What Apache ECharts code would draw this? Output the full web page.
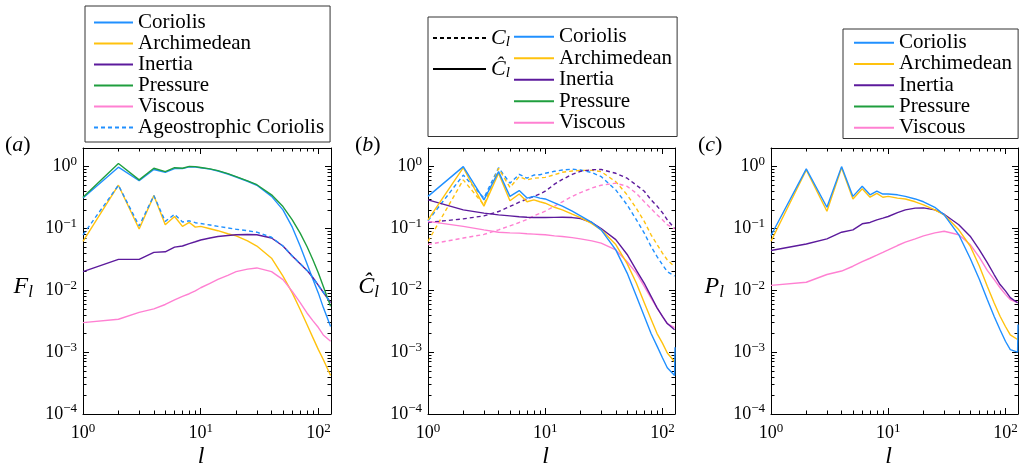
<!DOCTYPE html>
<html>
<head>
<meta charset="utf-8">
<title>Force spectra</title>
<script src="https://cdn.jsdelivr.net/npm/echarts@6/dist/echarts.min.js"></script>
<style>
  html, body { margin: 0; padding: 0; background: #fff; }
  #main { width: 1029px; height: 473px; }
</style>
</head>
<body>
<div id="main"></div>
<script>
// spherical harmonic degree l (last entry only used by the Coriolis curves of b and c)
var L = [1, 2, 3, 4, 5, 6, 7, 8, 9, 10, 12, 14, 17, 20, 25, 30, 40, 50, 60, 70, 80, 90, 100, 110, 127, 128];

// (a) F_l
var aCoriolis    = [0.31, 0.98, 0.59, 0.90, 0.81, 0.93, 0.93, 0.99, 0.98, 0.96, 0.91, 0.85, 0.76, 0.68, 0.58, 0.50, 0.33, 0.20, 0.105, 0.052, 0.027, 0.015, 0.009, 0.0053, 0.0026];
var aArchimedean = [0.062, 0.50, 0.098, 0.34, 0.115, 0.156, 0.108, 0.125, 0.105, 0.108, 0.099, 0.092, 0.082, 0.076, 0.063, 0.052, 0.033, 0.017, 0.0091, 0.0049, 0.0028, 0.0017, 0.0011, 0.00076, 0.00042];
var aInertia     = [0.020, 0.0316, 0.0316, 0.041, 0.042, 0.050, 0.052, 0.057, 0.061, 0.065, 0.070, 0.074, 0.077, 0.079, 0.080, 0.079, 0.070, 0.052, 0.036, 0.027, 0.021, 0.016, 0.012, 0.0093, 0.0063];
var aPressure    = [0.32, 1.12, 0.61, 0.94, 0.83, 0.96, 0.94, 1.01, 1.00, 0.97, 0.92, 0.86, 0.77, 0.69, 0.59, 0.51, 0.35, 0.226, 0.138, 0.084, 0.051, 0.031, 0.019, 0.0116, 0.0055];
var aViscous     = [0.0030, 0.0034, 0.0044, 0.0050, 0.0059, 0.0070, 0.0080, 0.0088, 0.0098, 0.011, 0.013, 0.015, 0.0175, 0.020, 0.022, 0.023, 0.020, 0.0149, 0.0096, 0.0063, 0.0043, 0.0032, 0.0025, 0.0019, 0.0015];
var aAgeo        = [0.079, 0.50, 0.11, 0.34, 0.13, 0.17, 0.127, 0.133, 0.124, 0.12, 0.114, 0.108, 0.102, 0.097, 0.092, 0.087, 0.072, 0.052, 0.036, 0.027, 0.021, 0.016, 0.012, 0.0093, 0.0063];

// (b) C_l (dashed) and C-hat_l (solid)
var bCoriolisHat    = [0.33, 1.0, 0.29, 0.83, 0.33, 0.41, 0.31, 0.33, 0.31, 0.30, 0.26, 0.23, 0.19, 0.16, 0.125, 0.095, 0.045, 0.019, 0.008, 0.0038, 0.002, 0.00125, 0.00081, 0.00056, 0.00042, 0.0012];
var bArchimedeanHat = [0.138, 0.96, 0.23, 0.78, 0.28, 0.36, 0.27, 0.29, 0.27, 0.256, 0.22, 0.20, 0.17, 0.15, 0.12, 0.095, 0.055, 0.027, 0.013, 0.0063, 0.0034, 0.002, 0.0014, 0.00097, 0.0007];
var bInertiaHat     = [0.29, 0.20, 0.177, 0.166, 0.16, 0.155, 0.152, 0.15, 0.15, 0.15, 0.151, 0.152, 0.15, 0.145, 0.125, 0.10, 0.066, 0.038, 0.021, 0.013, 0.008, 0.0052, 0.0038, 0.0029, 0.0023];
var bViscousHat     = [0.13, 0.108, 0.095, 0.087, 0.085, 0.084, 0.082, 0.081, 0.08, 0.079, 0.076, 0.074, 0.071, 0.068, 0.063, 0.058, 0.045, 0.029, 0.019, 0.0116, 0.0075, 0.0052, 0.0038, 0.0029, 0.0025];
var bCoriolis       = [0.133, 0.73, 0.31, 0.96, 0.54, 0.75, 0.65, 0.73, 0.74, 0.78, 0.84, 0.88, 0.91, 0.88, 0.80, 0.69, 0.42, 0.24, 0.138, 0.084, 0.051, 0.035, 0.026, 0.020, 0.017];
var bArchimedean    = [0.062, 0.61, 0.24, 0.94, 0.46, 0.69, 0.61, 0.65, 0.66, 0.67, 0.74, 0.81, 0.85, 0.87, 0.87, 0.83, 0.57, 0.35, 0.21, 0.13, 0.079, 0.055, 0.040, 0.031, 0.024];
var bInertia        = [0.125, 0.143, 0.16, 0.188, 0.227, 0.266, 0.30, 0.33, 0.36, 0.40, 0.52, 0.62, 0.75, 0.84, 0.89, 0.90, 0.78, 0.65, 0.50, 0.40, 0.29, 0.23, 0.18, 0.138, 0.10];
var bViscous        = [0.055, 0.07, 0.08, 0.095, 0.11, 0.125, 0.14, 0.16, 0.175, 0.19, 0.23, 0.27, 0.33, 0.38, 0.45, 0.50, 0.54, 0.48, 0.37, 0.27, 0.21, 0.166, 0.138, 0.115, 0.098];

// (c) P_l
var cCoriolis    = [0.077, 0.92, 0.22, 1.0, 0.33, 0.48, 0.35, 0.40, 0.36, 0.36, 0.35, 0.33, 0.30, 0.27, 0.22, 0.166, 0.079, 0.033, 0.015, 0.0071, 0.0038, 0.0023, 0.0015, 0.0011, 0.001, 0.0028];
var cArchimedean = [0.062, 0.88, 0.19, 0.96, 0.30, 0.44, 0.32, 0.37, 0.32, 0.33, 0.31, 0.30, 0.27, 0.24, 0.20, 0.166, 0.095, 0.052, 0.0245, 0.0116, 0.0063, 0.0038, 0.0026, 0.0019, 0.0016];
var cInertia     = [0.044, 0.056, 0.068, 0.087, 0.095, 0.119, 0.125, 0.138, 0.147, 0.156, 0.18, 0.20, 0.213, 0.215, 0.20, 0.17, 0.115, 0.075, 0.045, 0.028, 0.018, 0.0124, 0.0098, 0.0076, 0.0063];
var cViscous     = [0.012, 0.0135, 0.018, 0.0205, 0.0245, 0.029, 0.033, 0.037, 0.041, 0.045, 0.053, 0.06, 0.068, 0.076, 0.085, 0.09, 0.079, 0.055, 0.034, 0.021, 0.015, 0.011, 0.0086, 0.0071, 0.0063];

var xTickExp = [0, 1, 2];
var yTickExp = [-4, -3, -2, -1, 0];

var X_MIN = 1, X_MAX = 128, Y_MIN = 1e-4, Y_MAX = 2;
var SERIF = 'Liberation Serif';
var COL = {
  coriolis: '#2090ff',
  archimedean: '#ffc20e',
  inertia: '#5c1a9c',
  pressure: '#1f9e3e',
  viscous: '#ff80d2'
};

var grids = [
  { left: 83, top: 148, width: 248, height: 266 },
  { left: 428, top: 148, width: 247, height: 266 },
  { left: 771, top: 148, width: 247, height: 266 }
];

// tick positions in log10 space for the overlay axes
var xMinor = [], yMinor = [];
for (var d = 0; d < 2; d++) for (var k = 2; k < 10; k++) xMinor.push(d + Math.log10(k));
for (var e = -4; e < 0; e++) for (var m = 2; m < 10; m++) yMinor.push(e + Math.log10(m));

function pow10(v) {
  var n = Math.round(v);
  return '10{s|' + (n < 0 ? '\u2212' + (-n) : n) + '}';
}

function tickAxis(isX, g, pos, ticks, len, withLine, labels) {
  var ax = {
    type: 'value', gridIndex: g, position: pos,
    min: isX ? Math.log10(X_MIN) : Math.log10(Y_MIN),
    max: isX ? Math.log10(X_MAX) : Math.log10(Y_MAX),
    axisLine: { show: withLine, onZero: false, lineStyle: { color: '#000', width: 1 } },
    axisTick: { show: true, inside: true, length: len, customValues: ticks, lineStyle: { color: '#000', width: 1 } },
    axisLabel: { show: false },
    splitLine: { show: false },
    silent: true
  };
  if (labels) {
    ax.axisLabel = {
      show: true, customValues: labels, margin: isX ? 8 : 6, formatter: pow10,
      color: '#000', fontFamily: SERIF, fontSize: 18,
      rich: { s: { fontFamily: SERIF, fontSize: 13, color: '#000', padding: [0, 0, 10, 0] } }
    };
  }
  return ax;
}

var xAxes = [], yAxes = [];
for (var g = 0; g < 3; g++) {
  xAxes.push({ type: 'log', gridIndex: g, min: X_MIN, max: X_MAX, show: false });
  xAxes.push(tickAxis(true, g, 'bottom', xTickExp, 6, true, xTickExp));
  xAxes.push(tickAxis(true, g, 'bottom', xMinor, 3.5, false));
  xAxes.push(tickAxis(true, g, 'top', xTickExp, 6, true));
  xAxes.push(tickAxis(true, g, 'top', xMinor, 3.5, false));
  yAxes.push({ type: 'log', gridIndex: g, min: Y_MIN, max: Y_MAX, show: false });
  yAxes.push(tickAxis(false, g, 'left', yTickExp, 6, true, yTickExp));
  yAxes.push(tickAxis(false, g, 'left', yMinor, 3.5, false));
  yAxes.push(tickAxis(false, g, 'right', yTickExp, 6, true));
  yAxes.push(tickAxis(false, g, 'right', yMinor, 3.5, false));
}

function line(name, g, vals, color, dashed) {
  var pts = vals.map(function (v, i) { return [L[i], v]; });
  return {
    type: 'line', name: name, xAxisIndex: g * 5, yAxisIndex: g * 5,
    data: pts, symbol: 'none', silent: true, animation: false,
    itemStyle: { color: color },
    lineStyle: { color: color, width: 1.4, type: dashed ? [4, 3] : 'solid' }
  };
}

var series = [
  line('Coriolis', 0, aCoriolis, COL.coriolis),
  line('Archimedean', 0, aArchimedean, COL.archimedean),
  line('Inertia', 0, aInertia, COL.inertia),
  line('Pressure', 0, aPressure, COL.pressure),
  line('Viscous', 0, aViscous, COL.viscous),
  line('Ageostrophic Coriolis', 0, aAgeo, COL.coriolis, true),

  line('C', 1, [], '#000', true),
  line('Chat', 1, [], '#000'),
  line('Coriolis', 1, bCoriolis, COL.coriolis, true),
  line('Archimedean', 1, bArchimedean, COL.archimedean, true),
  line('Inertia', 1, bInertia, COL.inertia, true),
  line('Viscous', 1, bViscous, COL.viscous, true),
  line('Viscous', 1, bViscousHat, COL.viscous),
  line('Inertia', 1, bInertiaHat, COL.inertia),
  line('Archimedean', 1, bArchimedeanHat, COL.archimedean),
  line('Coriolis', 1, bCoriolisHat, COL.coriolis),

  line('Viscous', 2, cViscous, COL.viscous),
  line('Inertia', 2, cInertia, COL.inertia),
  line('Archimedean', 2, cArchimedean, COL.archimedean),
  line('Coriolis', 2, cCoriolis, COL.coriolis)
];

var legendText = { color: '#000', fontFamily: SERIF, fontSize: 21 };
function legendBox(opts) {
  var base = {
    orient: 'vertical', itemWidth: 40, itemHeight: 12, itemGap: 0,
    borderColor: '#333', borderWidth: 1, borderRadius: 0,
    selectedMode: false, itemStyle: { opacity: 0 }
  };
  for (var key in opts) base[key] = opts[key];
  return base;
}

var legends = [
  legendBox({
    data: ['Coriolis', 'Archimedean', 'Inertia', 'Pressure', 'Viscous', 'Ageostrophic Coriolis'],
    left: 85, top: 6, padding: [6, 6, 4, 8], itemWidth: 39, backgroundColor: '#fff',
    textStyle: Object.assign({ lineHeight: 20.4 }, legendText)
  }),
  legendBox({
    data: ['Coriolis', 'Archimedean', 'Inertia', 'Pressure', 'Viscous'],
    left: 428, top: 17, padding: [9, 5, 3, 85],
    textStyle: Object.assign({ lineHeight: 21.5 }, legendText)
  }),
  {
    orient: 'vertical', data: ['C', 'Chat'], left: 432, top: 26, padding: 0,
    itemWidth: 53, itemHeight: 12, itemGap: 7, selectedMode: false,
    itemStyle: { opacity: 0 },
    formatter: function (name) { return name === 'C' ? '{i|C}{s|l}' : '{i|\u0108}{s|l}'; },
    textStyle: {
      color: '#000', fontFamily: SERIF, lineHeight: 24,
      rich: {
        i: { fontFamily: SERIF, fontStyle: 'italic', fontSize: 22, color: '#000' },
        s: { fontFamily: SERIF, fontStyle: 'italic', fontSize: 15, color: '#000', padding: [9, 0, 0, 0] }
      }
    }
  },
  legendBox({
    data: ['Coriolis', 'Archimedean', 'Inertia', 'Pressure', 'Viscous'],
    left: 843, top: 29, padding: [3, 6, 0, 10], backgroundColor: '#fff',
    textStyle: Object.assign({ lineHeight: 21.3 }, legendText)
  })
];

var italicRich = {
  i: { fontFamily: SERIF, fontStyle: 'italic', fontSize: 24, fill: '#000' },
  s: { fontFamily: SERIF, fontStyle: 'italic', fontSize: 17, fill: '#000', padding: [11, 0, 0, 0] }
};
function label(x, y, text, align, size, rich) {
  return {
    type: 'text', x: x, y: y, silent: true,
    style: {
      text: text, fill: '#000', fontFamily: SERIF, fontSize: size,
      align: align, verticalAlign: 'middle', textAlign: align, textVerticalAlign: 'middle',
      rich: rich
    }
  };
}
var panelRich = { i: { fontFamily: SERIF, fontStyle: 'italic', fontSize: 22, fill: '#000' } };

var graphics = [
  label(5, 145, '({i|a})', 'left', 22, panelRich),
  label(355, 145, '({i|b})', 'left', 22, panelRich),
  label(698, 145, '({i|c})', 'left', 22, panelRich),
  label(33, 287, '{i|F}{s|l}', 'right', 24, italicRich),
  label(379, 287, '{i|\u0108}{s|l}', 'right', 24, italicRich),
  label(724, 287, '{i|P}{s|l}', 'right', 24, italicRich)
];
for (var p = 0; p < 3; p++) {
  var cx = grids[p].left + grids[p].width / 2 - 6;
  graphics.push(label(cx, 457, '{i|l}', 'center', 24, italicRich));
}

var chart = echarts.init(document.getElementById('main'), null, { renderer: 'canvas' });
chart.setOption({
  backgroundColor: '#fff',
  animation: false,
  grid: grids.map(function (gr) {
    return Object.assign({ outerBoundsMode: 'none', containLabel: false }, gr);
  }),
  xAxis: xAxes,
  yAxis: yAxes,
  legend: legends,
  graphic: graphics,
  series: series
});
</script>
</body>
</html>
